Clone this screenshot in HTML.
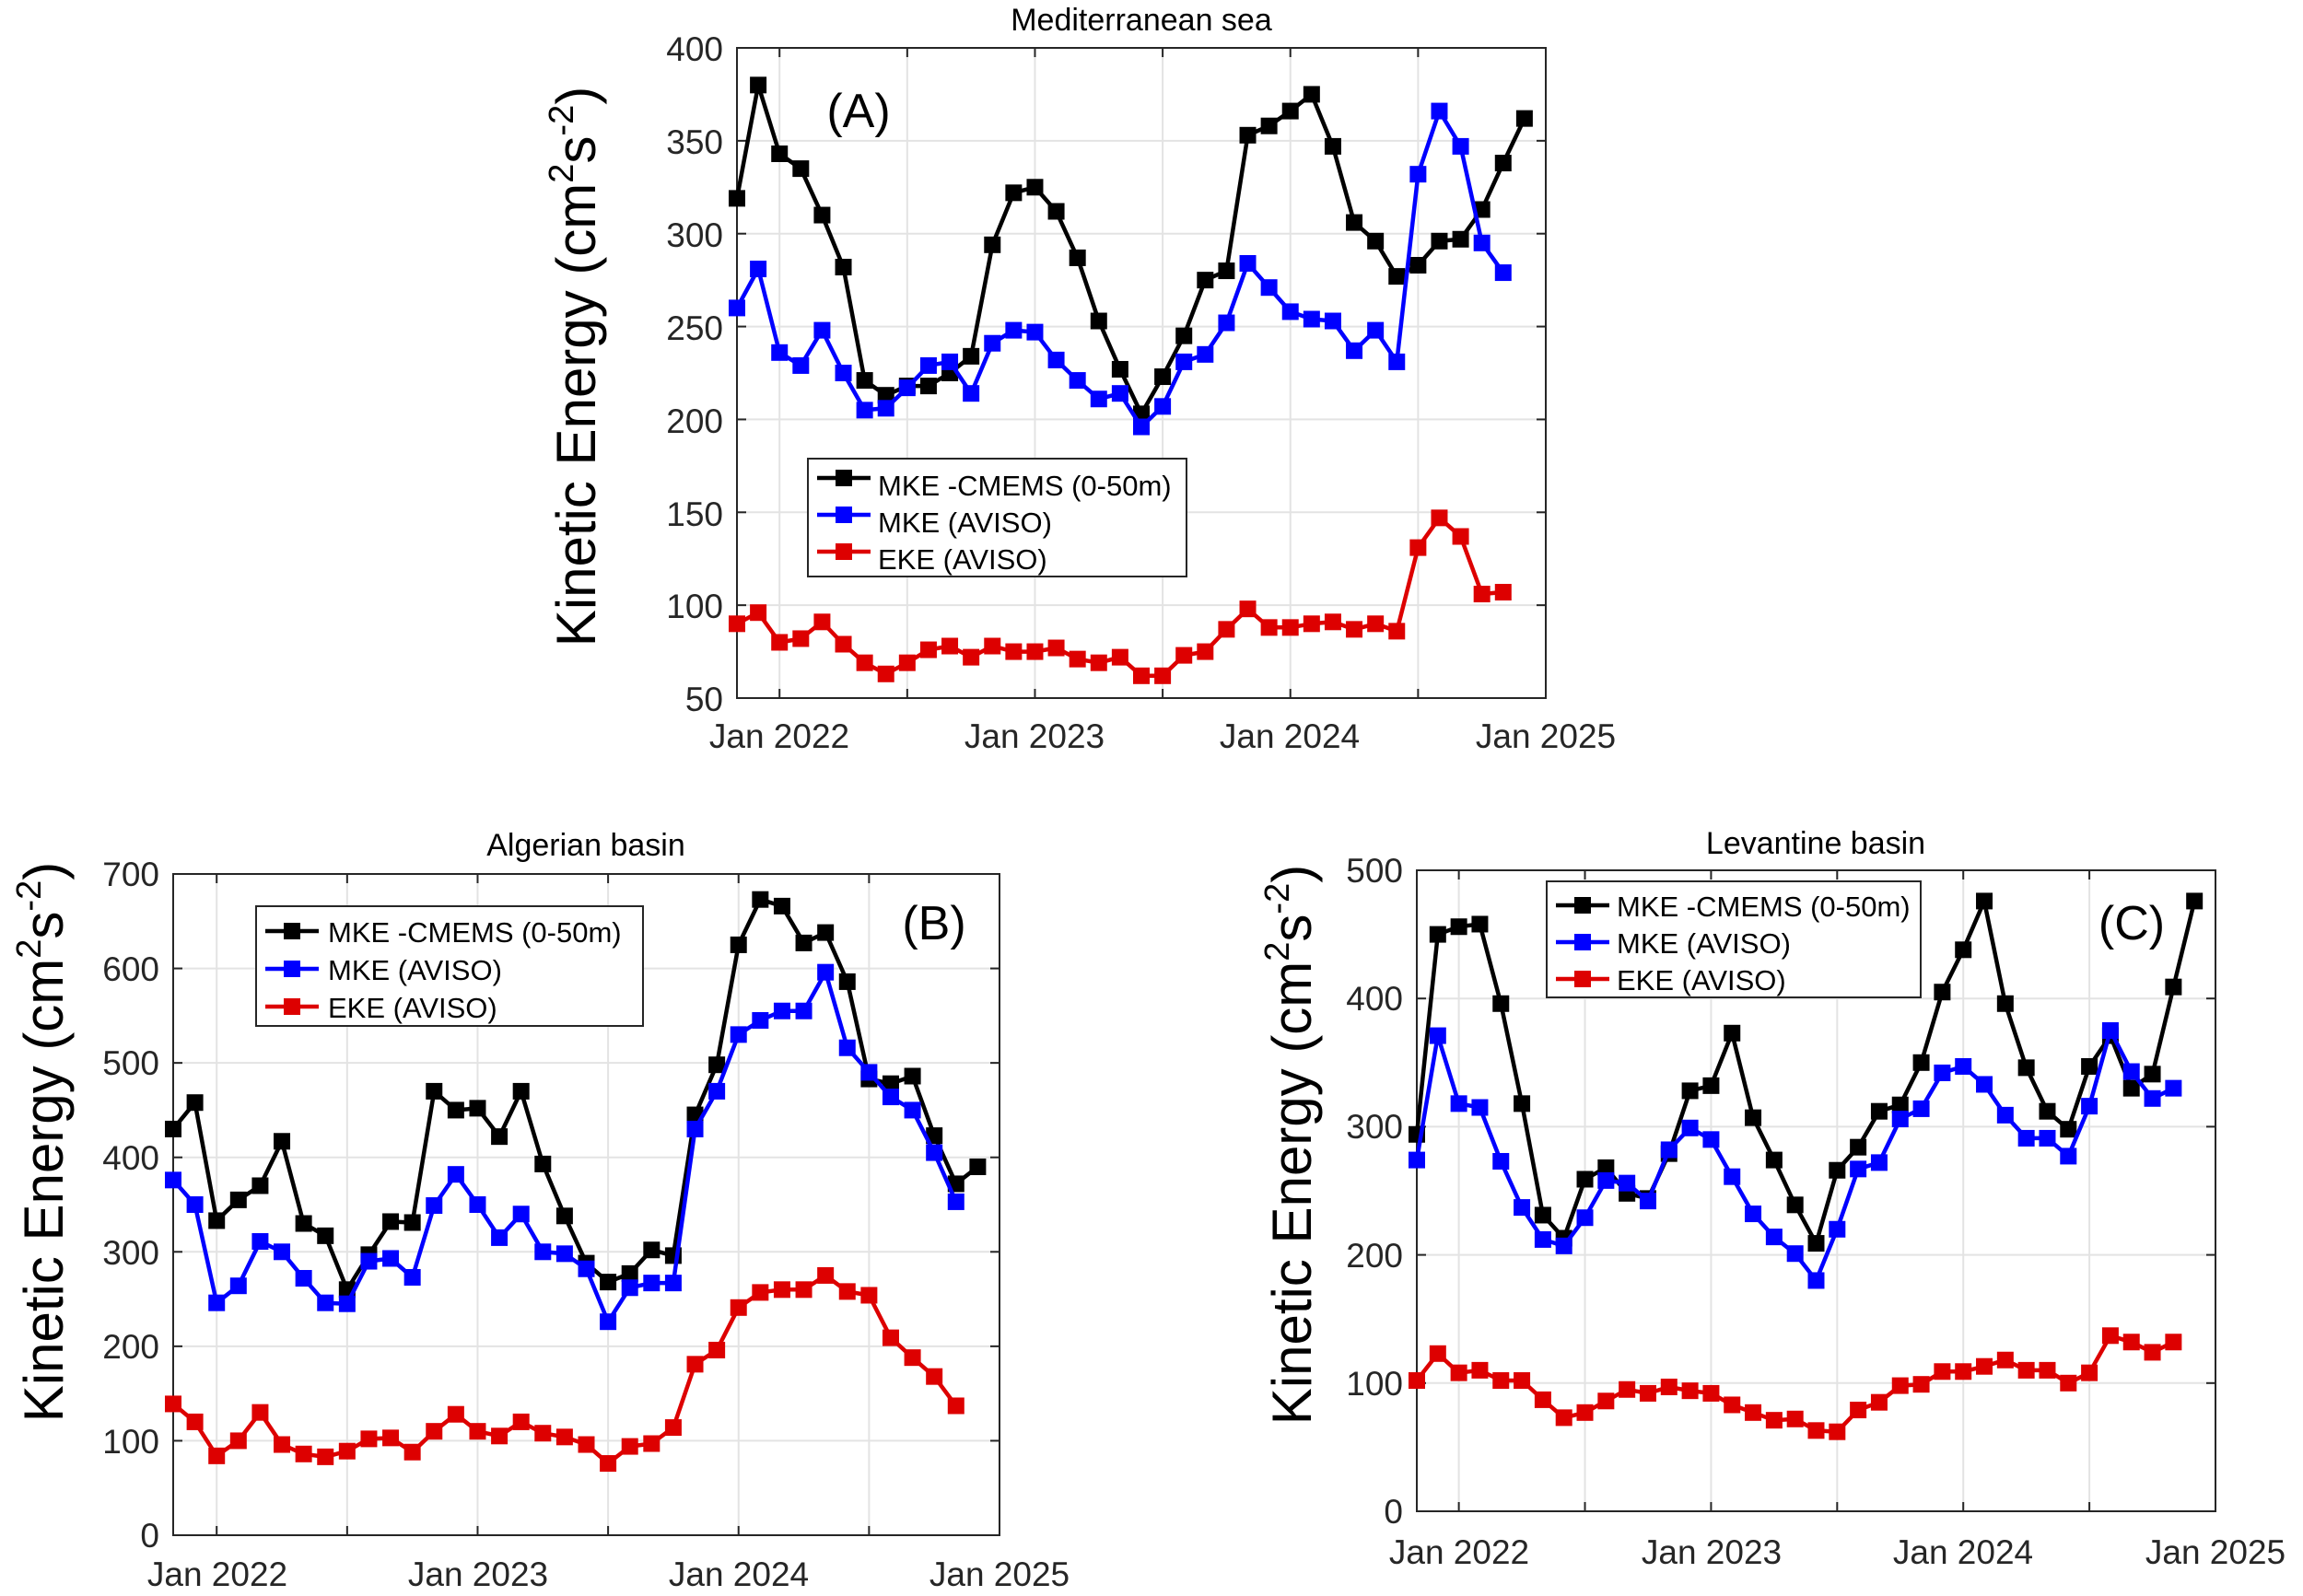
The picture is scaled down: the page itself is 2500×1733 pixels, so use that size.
<!DOCTYPE html>
<html><head><meta charset="utf-8"><style>
html,body{margin:0;padding:0;background:#fff;}
svg{display:block;font-family:"Liberation Sans",sans-serif;}
</style></head><body>
<svg id="s" width="2500" height="1733" viewBox="0 0 2500 1733" xmlns="http://www.w3.org/2000/svg">
<rect width="2500" height="1733" fill="#fff"/>
<g id="plots"></g>
<!-- Titles -->
<text x="1239" y="33" font-size="34" text-anchor="middle" fill="#000">Mediterranean sea</text>
<text x="636" y="929" font-size="34" text-anchor="middle" fill="#000">Algerian basin</text>
<text x="1971" y="927" font-size="34" text-anchor="middle" fill="#000">Levantine basin</text>
<!-- Y labels -->
<text transform="translate(646,398) rotate(-90)" font-size="60" text-anchor="middle" fill="#000">Kinetic Energy (cm<tspan font-size="38" dy="-24">2</tspan><tspan dy="24">s</tspan><tspan font-size="38" dy="-24">-2</tspan><tspan dy="24">)</tspan></text>
<text transform="translate(68,1240) rotate(-90)" font-size="60" text-anchor="middle" fill="#000">Kinetic Energy (cm<tspan font-size="38" dy="-24">2</tspan><tspan dy="24">s</tspan><tspan font-size="38" dy="-24">-2</tspan><tspan dy="24">)</tspan></text>
<text transform="translate(1423,1243) rotate(-90)" font-size="60" text-anchor="middle" fill="#000">Kinetic Energy (cm<tspan font-size="38" dy="-24">2</tspan><tspan dy="24">s</tspan><tspan font-size="38" dy="-24">-2</tspan><tspan dy="24">)</tspan></text>
<!-- Panel letters -->
<text x="932" y="138" font-size="52" text-anchor="middle" fill="#000">(A)</text>
<text x="1014" y="1020" font-size="52" text-anchor="middle" fill="#000">(B)</text>
<text x="2314" y="1020" font-size="52" text-anchor="middle" fill="#000">(C)</text>
<!-- Tick labels A -->
<g font-size="37" fill="#262626" text-anchor="end">
<text x="785" y="66">400</text><text x="785" y="167">350</text><text x="785" y="268">300</text><text x="785" y="369">250</text><text x="785" y="470">200</text><text x="785" y="571">150</text><text x="785" y="671">100</text><text x="785" y="772">50</text>
</g>
<g font-size="37" fill="#262626" text-anchor="middle">
<text x="846" y="812">Jan 2022</text><text x="1123" y="812">Jan 2023</text><text x="1400" y="812">Jan 2024</text><text x="1678" y="812">Jan 2025</text>
</g>
<!-- Tick labels B -->
<g font-size="37" fill="#262626" text-anchor="end">
<text x="173" y="962">700</text><text x="173" y="1065">600</text><text x="173" y="1167">500</text><text x="173" y="1270">400</text><text x="173" y="1373">300</text><text x="173" y="1475">200</text><text x="173" y="1578">100</text><text x="173" y="1680">0</text>
</g>
<g font-size="37" fill="#262626" text-anchor="middle">
<text x="236" y="1722">Jan 2022</text><text x="519" y="1722">Jan 2023</text><text x="802" y="1722">Jan 2024</text><text x="1085" y="1722">Jan 2025</text>
</g>
<!-- Tick labels C -->
<g font-size="37" fill="#262626" text-anchor="end">
<text x="1523" y="958">500</text><text x="1523" y="1097">400</text><text x="1523" y="1236">300</text><text x="1523" y="1376">200</text><text x="1523" y="1515">100</text><text x="1523" y="1654">0</text>
</g>
<g font-size="37" fill="#262626" text-anchor="middle">
<text x="1584" y="1698">Jan 2022</text><text x="1858" y="1698">Jan 2023</text><text x="2131" y="1698">Jan 2024</text><text x="2405" y="1698">Jan 2025</text>
</g>
<!-- Legends -->
<g id="legA">
<rect x="877" y="498" width="411" height="128" fill="#fff" stroke="#262626" stroke-width="2"/>
<text x="953" y="538" font-size="31">MKE -CMEMS (0-50m)</text>
<text x="953" y="578" font-size="31">MKE (AVISO)</text>
<text x="953" y="618" font-size="31">EKE (AVISO)</text>
</g>
<g id="legB">
<rect x="278" y="984" width="420" height="130" fill="#fff" stroke="#262626" stroke-width="2"/>
<text x="356" y="1023" font-size="31">MKE -CMEMS (0-50m)</text>
<text x="356" y="1064" font-size="31">MKE (AVISO)</text>
<text x="356" y="1105" font-size="31">EKE (AVISO)</text>
</g>
<g id="legC">
<rect x="1679" y="957" width="406" height="126" fill="#fff" stroke="#262626" stroke-width="2"/>
<text x="1755" y="995" font-size="31">MKE -CMEMS (0-50m)</text>
<text x="1755" y="1035" font-size="31">MKE (AVISO)</text>
<text x="1755" y="1075" font-size="31">EKE (AVISO)</text>
</g>
<g id="legmarks"></g>
</svg>
<script>
var NS="http://www.w3.org/2000/svg";
function el(p,t,a){var e=document.createElementNS(NS,t);for(var k in a)e.setAttribute(k,a[k]);p.appendChild(e);return e;}
var g=document.getElementById('plots');
var cols=['#000000','#0000ff','#dd0000'];
var P=[
{x0:800,x1:1678,y0:52,y1:758,vmin:50,vmax:400,step:50,
d:[[319,380,343,335,310,282,221,213,218,218,225,234,294,322,325,312,287,253,227,203,223,245,275,280,353,358,366,375,347,306,296,277,283,296,297,313,338,362],
[260,281,236,229,248,225,205,206,217,229,231,214,241,248,247,232,221,211,214,196,207,231,235,252,284,271,258,254,253,237,248,231,332,366,347,295,279],
[90,96,80,82,91,79,69,63,69,76,78,72,78,75,75,77,71,69,72,62,62,73,75,87,98,88,88,90,91,87,90,86,131,147,137,106,107]],
leg:[877,498,40,519]},
{x0:188,x1:1085,y0:949,y1:1667,vmin:0,vmax:700,step:100,
d:[[430,458,333,355,370,417,330,317,260,297,332,331,470,450,452,422,470,393,338,288,268,277,302,296,445,498,625,673,666,627,638,586,483,478,486,423,372,390],
[376,350,246,264,311,300,272,246,245,290,293,273,349,382,350,315,340,300,298,282,226,262,267,267,430,470,530,545,555,555,596,516,490,464,450,405,353],
[139,120,84,100,130,96,86,83,89,102,103,88,110,128,110,105,120,108,104,96,76,94,97,114,181,196,241,257,260,260,275,258,254,209,188,168,137]],
leg:[278,984,41,1011]},
{x0:1538,x1:2405,y0:945,y1:1641,vmin:0,vmax:500,step:100,
d:[[294,450,456,458,396,318,231,213,259,268,248,244,279,328,332,373,307,274,239,209,266,284,312,317,350,405,438,476,396,346,312,298,347,371,330,341,409,476],
[274,371,318,315,273,237,212,207,229,258,256,242,282,299,290,261,232,214,201,180,220,267,272,306,314,342,347,333,309,291,291,277,316,375,343,322,330],
[102,123,108,110,102,102,87,73,77,86,95,92,97,94,92,83,77,71,72,63,62,79,85,98,99,109,109,113,118,110,110,100,108,137,132,124,132]],
leg:[1679,957,40,983]}
];
P.forEach(function(p){
 var W=p.x1-p.x0,H=p.y1-p.y0;
 function X(m){return p.x0+m*W/38;}
 function Y(v){return p.y1-(v-p.vmin)/(p.vmax-p.vmin)*H;}
 el(g,'rect',{x:p.x0,y:p.y0,width:W,height:H,fill:'#fff'});
 for(var m=2;m<38;m+=6){el(g,'line',{x1:X(m),x2:X(m),y1:p.y0,y2:p.y1,stroke:'#e3e3e3','stroke-width':2});}
 for(var v=p.vmin+p.step;v<p.vmax;v+=p.step){el(g,'line',{x1:p.x0,x2:p.x1,y1:Y(v),y2:Y(v),stroke:'#e3e3e3','stroke-width':2});}
 for(var m=2;m<38;m+=6){el(g,'line',{x1:X(m),x2:X(m),y1:p.y1,y2:p.y1-10,stroke:'#262626','stroke-width':2});el(g,'line',{x1:X(m),x2:X(m),y1:p.y0,y2:p.y0+10,stroke:'#262626','stroke-width':2});}
 for(var v=p.vmin+p.step;v<p.vmax;v+=p.step){el(g,'line',{x1:p.x0,x2:p.x0+10,y1:Y(v),y2:Y(v),stroke:'#262626','stroke-width':2});el(g,'line',{x1:p.x1,x2:p.x1-10,y1:Y(v),y2:Y(v),stroke:'#262626','stroke-width':2});}
 el(g,'rect',{x:p.x0,y:p.y0,width:W,height:H,fill:'none',stroke:'#262626','stroke-width':2});
 p.d.forEach(function(arr,i){
  var pts=arr.map(function(v,k){return X(k).toFixed(1)+','+Y(v).toFixed(1);}).join(' ');
  el(g,'polyline',{points:pts,fill:'none',stroke:cols[i],'stroke-width':4.5,'stroke-linejoin':'round'});
  arr.forEach(function(v,k){el(g,'rect',{x:X(k)-9,y:Y(v)-9,width:18,height:18,fill:cols[i]});});
 });
});
var lm=document.getElementById('legmarks');
P.forEach(function(p){
 var lx=p.leg[0],ly=p.leg[3],dy=p.leg[2];
 for(var i=0;i<3;i++){
  var y=ly+i*dy;
  el(lm,'line',{x1:lx+10,x2:lx+68,y1:y,y2:y,stroke:cols[i],'stroke-width':4.5});
  el(lm,'rect',{x:lx+30,y:y-9,width:18,height:18,fill:cols[i]});
 }
});
var s=document.getElementById('s');
['legA','legB','legC','legmarks'].forEach(function(id){s.appendChild(document.getElementById(id));});
</script>
</body></html>
